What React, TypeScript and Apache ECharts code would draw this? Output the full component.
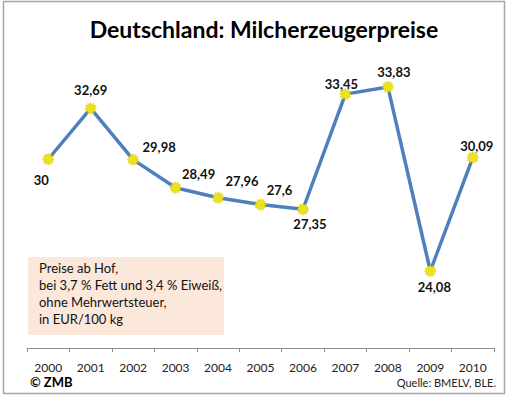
import React, { useEffect, useRef } from "react";
import * as echarts from "echarts";

const years = ["2000", "2001", "2002", "2003", "2004", "2005", "2006", "2007", "2008", "2009", "2010"];
const prices = [30, 32.69, 29.98, 28.49, 27.96, 27.6, 27.35, 33.45, 33.83, 24.08, 30.09];
const titleText = "Deutschland: Milcherzeugerpreise";
const noteLines = ["Preise ab Hof,", "bei 3,7 % Fett und 3,4 % Eiweiß,", "ohne Mehrwertsteuer,", "in EUR/100 kg"];
const copyrightText = "© ZMB";
const sourceText = "Quelle: BMELV, BLE.";

// label placement relative to each point (style, not data)
const labelOffsets: [number, number][] = [
  [-7, 21], [0, -18], [26, -13], [23, -14], [24, -17], [19, -15],
  [7, 15], [-4, -10], [6, -15], [4, 16], [4, -12],
];

function starPath(points: number, outer: number, inner: number): string {
  let d = "";
  for (let i = 0; i < points * 2; i++) {
    const r = i % 2 === 0 ? outer : inner;
    const a = (Math.PI * i) / points - Math.PI / 2;
    const x = (50 + r * Math.cos(a)).toFixed(2);
    const y = (50 + r * Math.sin(a)).toFixed(2);
    d += (i === 0 ? "M" : "L") + x + " " + y + " ";
  }
  return d + "Z";
}

export default function App() {
  const ref = useRef<HTMLDivElement>(null);
  useEffect(() => {
    if (!ref.current) return;
    const chart = echarts.init(ref.current, null, { renderer: "svg" });
    const font = "Lato, 'Noto Sans', sans-serif";
    chart.setOption({
      animation: false,
      backgroundColor: "#ffffff",
      grid: { left: 27, right: 16, top: 46, bottom: 48 },
      xAxis: {
        type: "category",
        data: years,
        boundaryGap: true,
        axisLine: { lineStyle: { color: "#8c8c8c", width: 1 } },
        axisTick: { show: true, length: 4, lineStyle: { color: "#8c8c8c" } },
        axisLabel: { color: "#222", fontFamily: font, fontSize: 12, margin: 13 },
      },
      yAxis: {
        type: "value",
        min: 20,
        max: 36,
        show: false,
        splitLine: { show: false },
      },
      series: [
        {
          type: "line",
          data: prices.map((v, i) => ({
            value: v,
            label: { offset: labelOffsets[i] },
          })),
          symbol: "path://" + starPath(12, 50, 34),
          symbolSize: 12,
          itemStyle: { color: "#ECE31A", borderColor: "#D9C80E", borderWidth: 0.5 },
          lineStyle: { color: "#4F7FBC", width: 3.5 },
          label: {
            show: true,
            position: "inside",
            color: "#111",
            fontFamily: font,
            fontWeight: "bold",
            fontSize: 13,
            formatter: (p: any) => String(p.value).replace(".", ","),
          },
        },
      ],
      graphic: [
        {
          type: "rect",
          shape: { x: 3.5, y: 1.5, width: 501, height: 392 },
          style: { fill: "none", stroke: "#a6a6a6", lineWidth: 1.5 },
          silent: true,
        },
        {
          type: "text",
          x: 264,
          y: 29,
          style: {
            text: titleText,
            fill: "#000",
            font: "bold 23px " + font,
            align: "center",
            verticalAlign: "middle",
          },
        },
        {
          type: "rect",
          shape: { x: 28, y: 257, width: 196, height: 78 },
          style: { fill: "#FCE8DA" },
          z: -1,
        },
        {
          type: "text",
          x: 39,
          y: 259,
          style: {
            text: noteLines.join("\n"),
            fill: "#111",
            font: "13px " + font,
            lineHeight: 17,
            align: "left",
            verticalAlign: "top",
          },
        },
        {
          type: "text",
          x: 30,
          y: 382,
          style: {
            text: copyrightText,
            fill: "#000",
            font: "bold 13px " + font,
            align: "left",
            verticalAlign: "middle",
          },
        },
        {
          type: "text",
          x: 496,
          y: 382,
          style: {
            text: sourceText,
            fill: "#222",
            font: "11px " + font,
            align: "right",
            verticalAlign: "middle",
          },
        },
      ],
    });
    return () => chart.dispose();
  }, []);
  return <div ref={ref} style={{ width: 510, height: 396, position: "absolute", left: 0, top: 0 }} />;
}
